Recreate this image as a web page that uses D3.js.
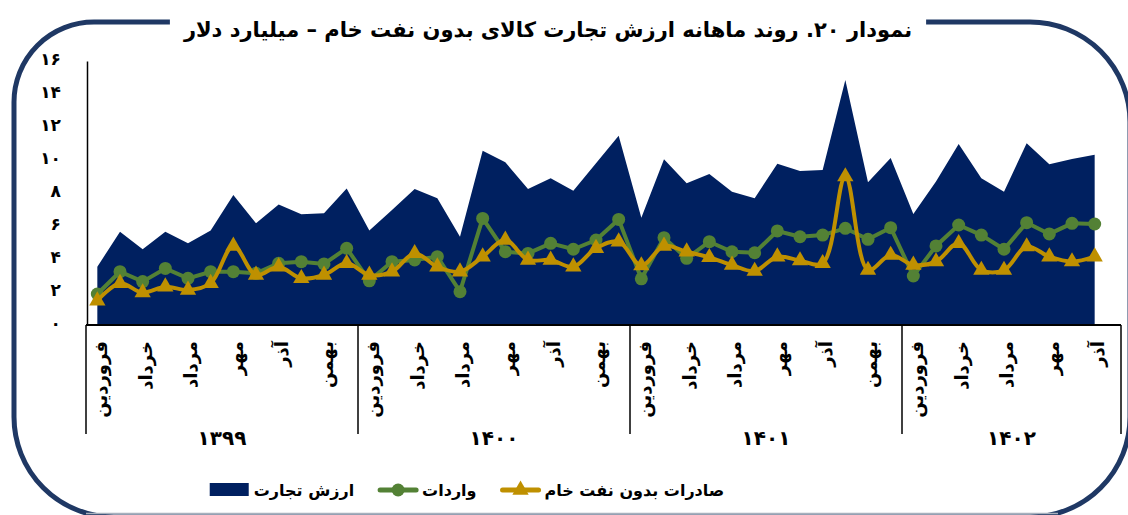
<!DOCTYPE html>
<html>
<head>
<meta charset="utf-8">
<script src="https://cdn.jsdelivr.net/npm/d3@7"></script>
<style>
body { margin: 0; background: #fff; }
svg { display: block; font-family: "DejaVu Sans", sans-serif; font-weight: bold; }
</style>
</head>
<body>
<div id="chart"></div>
<script>
var months = ["فروردین", "اردیبهشت", "خرداد", "تیر", "مرداد", "شهریور",
              "مهر", "آبان", "آذر", "دی", "بهمن", "اسفند"];
var years = ["۱۳۹۹", "۱۴۰۰", "۱۴۰۱", "۱۴۰۲"];
var monthsPerYear = [12, 12, 12, 9];

// ارزش تجارت (total), واردات (imports), صادرات بدون نفت خام (exports)
var trade = [3.53, 5.65, 4.59, 5.65, 4.95, 5.72, 7.88, 6.16, 7.31, 6.71, 6.77, 8.28,
             5.72, 6.97, 8.24, 7.68, 5.35, 10.56, 9.86, 8.24, 8.89, 8.14, 9.8, 11.47,
             6.5, 10.04, 8.59, 9.15, 8.08, 7.68, 9.78, 9.33, 9.39, 14.85, 8.65, 10.12,
             6.73, 8.69, 10.97, 8.89, 8.08, 11.01, 9.74, 10.06, 10.32];
var imports = [1.88, 3.23, 2.63, 3.43, 2.83, 3.23, 3.23, 3.13, 3.74, 3.84, 3.70, 4.65,
               2.68, 3.84, 3.94, 4.14, 2.02, 6.46, 4.44, 4.34, 4.95, 4.59, 5.15, 6.4,
               2.8, 5.29, 4.04, 5.05, 4.44, 4.38, 5.7, 5.35, 5.45, 5.86, 5.19, 5.9,
               2.97, 4.79, 6.06, 5.45, 4.59, 6.2, 5.52, 6.16, 6.12];
var exports = [1.47, 2.53, 1.96, 2.32, 2.12, 2.53, 4.79, 3.03, 3.53, 2.83, 3.03, 3.74,
               3.03, 3.23, 4.34, 3.53, 3.23, 4.14, 5.15, 3.94, 3.94, 3.53, 4.65, 5.05,
               3.6, 4.79, 4.44, 4.1, 3.64, 3.27, 4.14, 3.9, 3.74, 8.99, 3.33, 4.24,
               3.64, 3.84, 4.95, 3.33, 3.33, 4.75, 4.14, 3.84, 4.14];
var yTicks = [0, 2, 4, 6, 8, 10, 12, 14, 16];

var title = "نمودار ۲۰. روند ماهانه ارزش تجارت کالای بدون نفت خام – میلیارد دلار";
var names = {trade: "ارزش تجارت", imports: "واردات", exports: "صادرات بدون نفت خام"};

var navy = "#002060", green = "#538135", gold = "#bf9000", frame = "#1f3864";

function fa(n) {
    return String(n).replace(/\d/g, function(d) { return "۰۱۲۳۴۵۶۷۸۹"[d]; });
}

// one category per month
var cats = [];
years.forEach(function(yr, j) {
    for (var m = 0; m < monthsPerYear[j]; m++) cats.push({year: j, month: m});
});

var width = 1128, height = 515;
var plot = {l: 86, r: 1106, t: 61, b: 325};

var svg = d3.select("#chart").append("svg")
    .attr("width", width)
    .attr("height", height);

var x = d3.scaleBand()
    .domain(d3.range(cats.length))
    .range([plot.l, plot.r]);
var cx = function(i) { return x(i) + x.bandwidth() / 2; };

var y = d3.scaleLinear()
    .domain([0, 16])
    .range([plot.b, plot.t]);

// title
var titleText = svg.append("text")
    .attr("x", 548)
    .attr("y", 30)
    .attr("dy", ".35em")
    .style("text-anchor", "middle")
    .style("font-size", "21px")
    .text(title);
var tw = titleText.node().getComputedTextLength();

// frame with a gap for the title
var fl = 14, fr = 1130, ft = 22, fb = 517, r1 = 80, r2 = 100;
var gapL = 548 - tw / 2 - 14, gapR = 548 + tw / 2 + 14;
var p = d3.path();
p.moveTo(gapL, ft);
p.lineTo(fl + r1, ft);
p.arcTo(fl, ft, fl, ft + r1, r1);
p.lineTo(fl, fb - r2);
p.arcTo(fl, fb, fl + r2, fb, r2);
p.lineTo(fr - r2, fb);
p.arcTo(fr, fb, fr, fb - r2, r2);
p.lineTo(fr, ft + r2);
p.arcTo(fr, ft, fr - r2, ft, r2);
p.lineTo(gapR, ft);
svg.append("path")
    .attr("d", p.toString())
    .attr("fill", "none")
    .attr("stroke", frame)
    .attr("stroke-width", 5);

svg.append("line")
    .attr("x1", fl + r2 - 28).attr("x2", fr - r2 + 28)
    .attr("y1", 513.5).attr("y2", 513.5)
    .attr("stroke", "#a7b0bd")
    .attr("stroke-width", 1.5);

// area
var area = d3.area()
    .x(function(d, i) { return cx(i); })
    .y0(y(0))
    .y1(function(d) { return y(d); });

svg.append("path")
    .datum(trade)
    .attr("d", area)
    .attr("fill", navy);

// y axis
var yAxis = d3.axisLeft(y)
    .tickValues(yTicks)
    .tickSize(0)
    .tickSizeOuter(0)
    .tickPadding(26)
    .tickFormat(fa);

var gy = svg.append("g")
    .attr("class", "y axis")
    .attr("transform", "translate(" + (plot.l + 1) + ",0)")
    .call(yAxis);
gy.select(".domain").attr("stroke", "#000").attr("stroke-width", 1.5);
gy.selectAll("text")
    .style("font-size", "17px")
    .style("font-family", "DejaVu Sans")
    .style("font-weight", "bold")
    .attr("dy", ".2em")
    .attr("fill", "#000");

// x axis: baseline, year separators, month and year labels
var axisEnd = plot.r + 15;
svg.append("line")
    .attr("x1", plot.l).attr("x2", axisEnd)
    .attr("y1", plot.b).attr("y2", plot.b)
    .attr("stroke", "#000")
    .attr("stroke-width", 2);

var starts = [0];
monthsPerYear.forEach(function(n, j) { starts.push(starts[j] + n); });
var bounds = starts.map(function(s, j) {
    return j < years.length ? x(s) : axisEnd;
});

svg.selectAll(".sep")
    .data(bounds)
    .enter().append("line")
    .attr("class", "sep")
    .attr("x1", function(d) { return d; })
    .attr("x2", function(d) { return d; })
    .attr("y1", plot.b)
    .attr("y2", plot.b + 109)
    .attr("stroke", "#000")
    .attr("stroke-width", 1.5);

svg.selectAll(".mlabel")
    .data(cats.filter(function(c) { return c.month % 2 == 0; }))
    .enter().append("text")
    .attr("class", "mlabel")
    .attr("transform", function(c) {
        var i = starts[c.year] + c.month;
        return "translate(" + (cx(i) + 3) + "," + (plot.b + 16) + ") rotate(-90)";
    })
    .attr("dy", ".35em")
    .style("text-anchor", "end")
    .style("font-size", "18px")
    .text(function(c) { return months[c.month]; });

svg.selectAll(".ylabel")
    .data(years)
    .enter().append("text")
    .attr("class", "ylabel")
    .attr("x", function(d, j) { return (bounds[j] + bounds[j + 1]) / 2; })
    .attr("y", 438)
    .attr("dy", ".35em")
    .style("text-anchor", "middle")
    .style("font-size", "20px")
    .text(function(d) { return d; });

// imports
var line = d3.line()
    .x(function(d, i) { return cx(i); })
    .y(function(d) { return y(d); });

svg.append("path")
    .datum(imports)
    .attr("d", line)
    .attr("fill", "none")
    .attr("stroke", green)
    .attr("stroke-width", 4);

svg.selectAll(".imp")
    .data(imports)
    .enter().append("circle")
    .attr("class", "imp")
    .attr("cx", function(d, i) { return cx(i); })
    .attr("cy", function(d) { return y(d); })
    .attr("r", 6.5)
    .attr("fill", green);

// exports (smoothed)
var smooth = d3.line()
    .curve(d3.curveCatmullRom.alpha(0.5))
    .x(function(d, i) { return cx(i); })
    .y(function(d) { return y(d); });

svg.append("path")
    .datum(exports)
    .attr("d", smooth)
    .attr("fill", "none")
    .attr("stroke", gold)
    .attr("stroke-width", 4);

var tri = d3.symbol().type(d3.symbolTriangle).size(115);
svg.selectAll(".exp")
    .data(exports)
    .enter().append("path")
    .attr("class", "exp")
    .attr("transform", function(d, i) { return "translate(" + cx(i) + "," + y(d) + ")"; })
    .attr("d", tri)
    .attr("fill", gold);

// legend, laid out right to left, then centred
var legendItems = [
    {name: names.exports, type: "tri", color: gold},
    {name: names.imports, type: "circle", color: green},
    {name: names.trade, type: "rect", color: navy}
];
var lg = svg.append("g").attr("class", "legend");
var cursor = 0, ly = 490;
legendItems.forEach(function(it) {
    var t = lg.append("text")
        .attr("x", cursor)
        .attr("y", ly)
        .attr("dy", ".35em")
        .style("text-anchor", "end")
        .style("font-size", "16px")
        .text(it.name);
    var w = t.node().getComputedTextLength();
    var sx1 = cursor - w - 4, sx0 = sx1 - 40;
    if (it.type == "rect") {
        lg.append("rect")
            .attr("x", sx0).attr("y", ly - 7)
            .attr("width", 39).attr("height", 13)
            .attr("fill", it.color);
    } else {
        lg.append("line")
            .attr("x1", sx0 + 2).attr("x2", sx1 - 2)
            .attr("y1", ly).attr("y2", ly)
            .attr("stroke", it.color)
            .attr("stroke-width", 5)
            .attr("stroke-linecap", "round");
        if (it.type == "circle") {
            lg.append("circle")
                .attr("cx", (sx0 + sx1) / 2).attr("cy", ly)
                .attr("r", 6.5)
                .attr("fill", it.color);
        } else {
            lg.append("path")
                .attr("transform", "translate(" + (sx0 + sx1) / 2 + "," + ly + ")")
                .attr("d", tri)
                .attr("fill", it.color);
        }
    }
    cursor = sx0 - 24;
});
var lb = lg.node().getBBox();
lg.attr("transform", "translate(" + (467 - (lb.x + lb.width / 2)) + ",0)");
</script>
</body>
</html>
